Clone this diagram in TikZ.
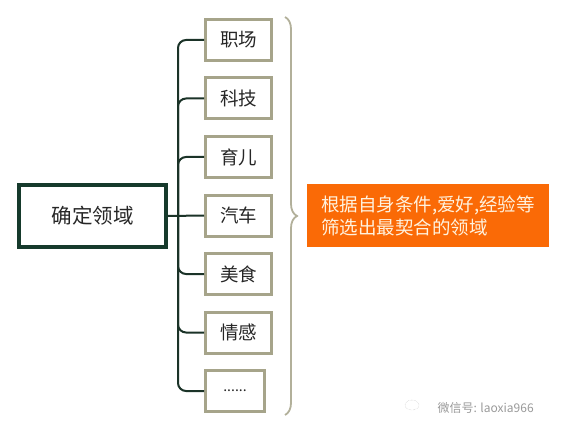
\documentclass[tikz,border=0pt]{standalone}
\usepackage{fontspec}
\setmainfont{Noto Sans CJK SC}
\usetikzlibrary{positioning, shapes.geometric, decorations.pathreplacing}

\definecolor{trunkgreen}{HTML}{1B3328}
\definecolor{rootgreen}{HTML}{163A2C}
\definecolor{khaki}{HTML}{A6A48A}
\definecolor{braceline}{HTML}{B2B09A}
\definecolor{noteorange}{HTML}{FA6A06}
\definecolor{notetext}{HTML}{FFF2DE}

\begin{document}
\begin{tikzpicture}[
    x=1pt, y=-1pt,
    node distance=14.5pt,
    root/.style={rectangle, draw=rootgreen, line width=4pt, minimum width=147pt, minimum height=62pt,
                 inner sep=0pt, font=\fontsize{20.5}{24}\selectfont, text=black!85},
    item/.style={rectangle, draw=khaki, line width=3pt, minimum width=66pt, minimum height=41pt,
                 inner sep=0pt, font=\fontsize{18.5}{22}\selectfont, text=black!85},
    branch/.style={trunkgreen, line width=2pt, rounded corners=8pt},
    curly/.style={braceline, line width=1.8pt, decorate, decoration={brace, amplitude=12pt}},
    note/.style={rectangle, fill=noteorange, text=notetext, minimum width=242pt, minimum height=63pt,
                 inner xsep=12pt, align=left, font=\fontsize{18.5}{23}\selectfont},
    wmark/.style={text=black!40, font=\fontsize{12}{14}\selectfont}
  ]
    \useasboundingbox (0,0) rectangle (565,433);
    % Nodes
    \node[root] (domain) at (92.5,216) {确定领域};
    \node[item] (c1) at (238.5,40) {职场};
    \node[item, below=of c1] (c2) {科技};
    \node[item, below=of c2] (c3) {育儿};
    \node[item, below=of c3] (c4) {汽车};
    \node[item, below=of c4] (c5) {美食};
    \node[item, below=of c5] (c6) {情感};
    \node[item, minimum width=59pt, font=\fontsize{14}{16}\selectfont,
          below=14.5pt of c6.south west, anchor=north west] (c7) {......};
    \node[note] (reason) at (428,215.5) {根据自身条件,爱好,经验等\\筛选出最契合的领域};
    % Tree
    \coordinate (hub) at (178,216);
    \draw[branch] (domain.east) -- (c4.west);
    \foreach \c in {c1,c2,c3,c5,c6,c7}
      \draw[branch] (hub) |- (\c.west);
    % Brace
    \coordinate (btop) at (285,17);
    \coordinate (bbot) at (285,415);
    \draw[curly] (btop) -- (bbot);
    % Watermark
    \node[draw=black!30, densely dotted, ellipse, minimum width=14pt, minimum height=10pt, inner sep=0pt] (wx) at (412,405) {};
    \node[wmark, anchor=west] (wm) at (434,408) {微信号: laoxia966};
  \end{tikzpicture}
\end{document}
